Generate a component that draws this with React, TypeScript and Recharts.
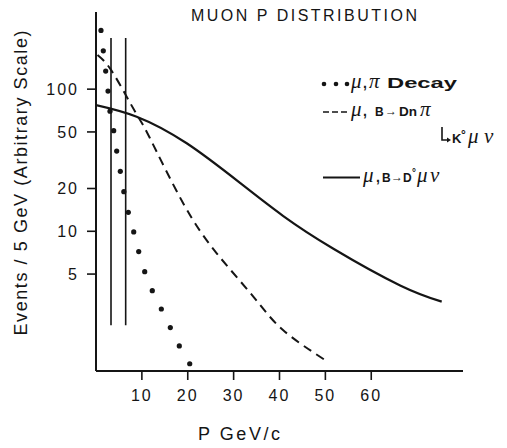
import React from 'react';
import { ComposedChart, Line, Scatter, XAxis, YAxis, ReferenceLine } from 'recharts';

// mu,pi decay (dots)
const decayX = [1.09, 1.59, 2.11, 2.62, 3.05, 3.86, 4.51, 5.3, 6.07, 7.04, 8.22, 9.31, 10.62, 12.27, 14.24, 16.2, 18.16, 20.43];
const decayY = [259, 186, 134, 97, 70, 51, 36.7, 26.4, 19, 13.6, 9.9, 7.2, 5.2, 3.82, 2.84, 2.1, 1.56, 1.17];

// mu, B -> D n pi (dashed)
const dnpiX = [0.33, 3.05, 6.69, 9.37, 11.77, 19.03, 26.31, 34.29, 40.76, 50.64];
const dnpiY = [174, 140, 88.5, 62.4, 45.1, 15.7, 7.0, 3.47, 2.02, 1.2];

// mu, B -> D0 mu nu (solid)
const dmunuX = [0, 8.87, 19.77, 31.39, 40.83, 51.66, 66.3, 75.36];
const dmunuY = [77.3, 64, 41.6, 21.9, 12.8, 7.57, 4.16, 3.2];

// momentum cuts (vertical lines)
const cutX = [3.27, 6.47];
const cutTop = 229;
const cutBottom = 2.18;

const xTicks = [10, 20, 30, 40, 50, 60];
const yTicks = [5, 10, 20, 50, 100];

const toPts = (xs: number[], ys: number[]) => xs.map((x, i) => ({ x, y: ys[i] }));

const decayData = toPts(decayX, decayY);
const dnpiData = toPts(dnpiX, dnpiY);
const dmunuData = toPts(dmunuX, dmunuY);

const INK = '#151515';
const SANS = '"Liberation Sans", Arial, sans-serif';
const SERIF = '"Liberation Serif", "DejaVu Serif", serif';

const Dot = (props: any) => <circle cx={props.cx} cy={props.cy} r={2.6} fill={INK} />;

const greek = { fontFamily: SERIF, fontStyle: 'italic', fontSize: 21 } as const;
const small = { fontFamily: SANS, fontWeight: 700, fontSize: 12 } as const;

function Overlay() {
  return (
    <svg width={507} height={448} style={{ position: 'absolute', left: 0, top: 0, pointerEvents: 'none' }}>
      <text x={304} y={21} textAnchor="middle" fontFamily={SANS} fontSize={16} fill={INK} textLength={226} lengthAdjust="spacing">
        MUON P DISTRIBUTION
      </text>
      <text
        transform="translate(27,183) rotate(-90)"
        textAnchor="middle"
        fontFamily={SANS}
        fontSize={18}
        fill={INK}
        textLength={305}
        lengthAdjust="spacing"
      >
        Events / 5 GeV (Arbitrary Scale)
      </text>
      <text x={239} y={440} textAnchor="middle" fontFamily={SANS} fontSize={18} fill={INK} textLength={82} lengthAdjust="spacing">
        P GeV/c
      </text>

      {/* legend row 1 */}
      <circle cx={324} cy={84} r={2.3} fill={INK} />
      <circle cx={336} cy={84} r={2.3} fill={INK} />
      <circle cx={347} cy={84} r={2.3} fill={INK} />
      <text x={351} y={88} fill={INK} style={greek}>μ</text>
      <text x={363} y={88} fill={INK} fontFamily={SANS} fontWeight={700} fontSize={14}>,</text>
      <text x={369} y={88} fill={INK} style={greek}>π</text>
      <text x={387} y={88} fill={INK} fontFamily={SANS} fontWeight={700} fontSize={14} textLength={70} lengthAdjust="spacingAndGlyphs">Decay</text>

      {/* legend row 2 */}
      <line x1={323} y1={112} x2={347} y2={112} stroke={INK} strokeWidth={1.6} strokeDasharray="6 3" />
      <text x={351} y={116} fill={INK} style={greek}>μ</text>
      <text x={363} y={116} fill={INK} fontFamily={SANS} fontWeight={700} fontSize={14}>,</text>
      <text x={375} y={116} fill={INK} style={small}>B</text>
      <text x={385} y={115} fill={INK} style={small}>→</text>
      <text x={399} y={116} fill={INK} fontFamily={SANS} fontWeight={700} fontSize={13} textLength={18} lengthAdjust="spacingAndGlyphs">Dn</text>
      <text x={420} y={116} fill={INK} style={greek}>π</text>

      {/* legend row 3 */}
      <path d="M442,127 V140 H449" stroke={INK} strokeWidth={1.6} fill="none" />
      <path d="M447,137.5 L451,140 L447,142.5 Z" fill={INK} />
      <text x={452} y={143} fill={INK} fontFamily={SANS} fontWeight={700} fontSize={13}>K</text>
      <text x={461} y={139} fill={INK} style={small}>°</text>
      <text x={468} y={143} fill={INK} style={greek}>μ</text>
      <text x={484} y={143} fill={INK} style={greek} fontSize={22}>ν</text>

      {/* legend row 4 */}
      <line x1={323} y1={177.5} x2={360} y2={177.5} stroke={INK} strokeWidth={1.8} />
      <text x={363} y={182} fill={INK} style={greek}>μ</text>
      <text x={376} y={182} fill={INK} fontFamily={SANS} fontWeight={700} fontSize={14}>,</text>
      <text x={382} y={182} fill={INK} style={small}>B</text>
      <text x={391} y={181} fill={INK} style={small}>→</text>
      <text x={403} y={182} fill={INK} style={small}>D</text>
      <text x={412} y={176} fill={INK} fontFamily={SANS} fontWeight={700} fontSize={10}>°</text>
      <text x={417} y={182} fill={INK} style={greek}>μ</text>
      <text x={430} y={182} fill={INK} style={greek}>ν</text>
    </svg>
  );
}

export default function App() {
  const tickStyle = { fontFamily: SANS, fontSize: 16, fill: INK, letterSpacing: 2 };
  return (
    <div style={{ position: 'absolute', left: 0, top: 0, width: 507, height: 448, background: '#fff' }}>
      <ComposedChart width={507} height={448} margin={{ top: 12, right: 44, bottom: 47, left: 0 }}>
        <XAxis
          dataKey="x"
          type="number"
          domain={[0, 80]}
          ticks={xTicks}
          allowDataOverflow
          height={30}
          axisLine={{ stroke: INK, strokeWidth: 2 }}
          tickLine={{ stroke: INK, strokeWidth: 1.6 }}
          tickSize={9}
          tickMargin={10}
          tick={tickStyle}
        />
        <YAxis
          dataKey="y"
          type="number"
          scale="log"
          domain={[1.04, 349]}
          ticks={yTicks}
          allowDataOverflow
          width={96}
          axisLine={{ stroke: INK, strokeWidth: 2 }}
          tickLine={{ stroke: INK, strokeWidth: 1.6 }}
          tickSize={9}
          tickMargin={8}
          tick={tickStyle}
        />
        {cutX.map((cx) => (
          <ReferenceLine
            key={cx}
            segment={[{ x: cx, y: cutTop }, { x: cx, y: cutBottom }]}
            stroke={INK}
            strokeWidth={1.6}
            ifOverflow="visible"
          />
        ))}
        <Line
          data={dmunuData}
          dataKey="y"
          type="natural"
          stroke={INK}
          strokeWidth={2.2}
          dot={false}
          isAnimationActive={false}
        />
        <Line
          data={dnpiData}
          dataKey="y"
          type="natural"
          stroke={INK}
          strokeWidth={2}
          strokeDasharray="9 6"
          dot={false}
          isAnimationActive={false}
        />
        <Scatter data={decayData} dataKey="y" shape={Dot} isAnimationActive={false} />
      </ComposedChart>
      <Overlay />
    </div>
  );
}
